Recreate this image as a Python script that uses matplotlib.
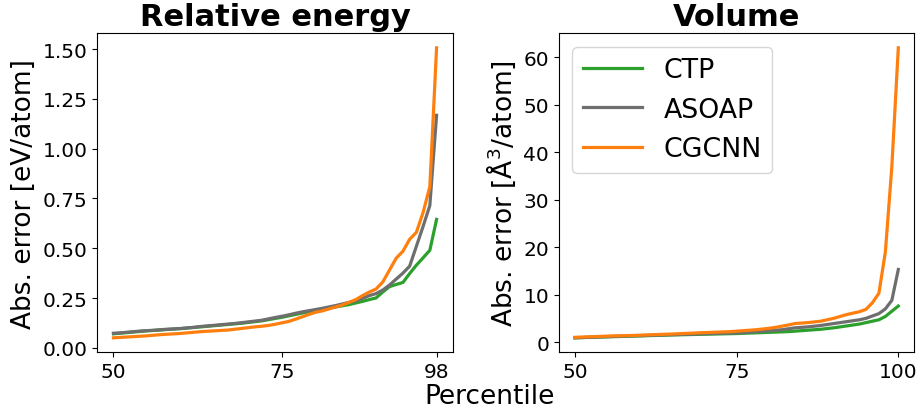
import numpy as np
from matplotlib import pyplot as plt

# percentiles for each panel
pct_energy = list(range(50, 99))
pct_volume = list(range(50, 101))

# relative energy abs. error [eV/atom]
ctp_energy = [0.070, 0.073, 0.076, 0.079, 0.082, 0.085, 0.087, 0.089, 0.092, 0.094,
              0.096, 0.099, 0.102, 0.105, 0.108, 0.111, 0.114, 0.117, 0.120, 0.123,
              0.127, 0.131, 0.135, 0.141, 0.147, 0.153, 0.160, 0.167, 0.174, 0.181,
              0.187, 0.193, 0.199, 0.205, 0.211, 0.217, 0.225, 0.233, 0.242, 0.250,
              0.280, 0.307, 0.318, 0.328, 0.373, 0.415, 0.452, 0.490, 0.645]
asoap_energy = [0.073, 0.075, 0.078, 0.081, 0.084, 0.086, 0.088, 0.091, 0.093, 0.095,
                0.097, 0.100, 0.103, 0.107, 0.110, 0.113, 0.116, 0.119, 0.122, 0.126,
                0.130, 0.134, 0.138, 0.145, 0.152, 0.158, 0.165, 0.173, 0.180, 0.186,
                0.192, 0.198, 0.205, 0.212, 0.220, 0.228, 0.236, 0.248, 0.262, 0.272,
                0.290, 0.315, 0.345, 0.375, 0.410, 0.510, 0.610, 0.715, 1.168]
cgcnn_energy = [0.050, 0.052, 0.054, 0.056, 0.058, 0.060, 0.063, 0.066, 0.068, 0.070,
                0.072, 0.075, 0.078, 0.081, 0.083, 0.085, 0.087, 0.089, 0.093, 0.097,
                0.101, 0.105, 0.108, 0.112, 0.118, 0.125, 0.132, 0.143, 0.155, 0.167,
                0.178, 0.185, 0.195, 0.205, 0.215, 0.228, 0.242, 0.262, 0.280, 0.295,
                0.330, 0.390, 0.450, 0.485, 0.545, 0.580, 0.680, 0.810, 1.507]

# volume abs. error [A^3/atom]
ctp_volume = [0.9, 0.94, 0.98, 1.02, 1.06, 1.1, 1.14, 1.18, 1.22, 1.26,
              1.3, 1.34, 1.38, 1.42, 1.46, 1.5, 1.53, 1.56, 1.59, 1.62,
              1.65, 1.68, 1.71, 1.74, 1.77, 1.8, 1.85, 1.9, 1.95, 2.0,
              2.05, 2.1, 2.15, 2.2, 2.3, 2.4, 2.5, 2.6, 2.7, 2.85,
              3.0, 3.2, 3.4, 3.6, 3.8, 4.1, 4.4, 4.7, 5.4, 6.5, 7.6]
asoap_volume = [0.9, 0.95, 1.0, 1.05, 1.1, 1.15, 1.2, 1.24, 1.28, 1.32,
                1.36, 1.4, 1.44, 1.48, 1.52, 1.56, 1.6, 1.64, 1.68, 1.72,
                1.76, 1.8, 1.83, 1.86, 1.9, 1.95, 2.0, 2.1, 2.2, 2.3,
                2.4, 2.5, 2.6, 2.8, 3.0, 3.1, 3.2, 3.35, 3.5, 3.7,
                3.9, 4.1, 4.3, 4.5, 4.7, 5.0, 5.5, 6.0, 7.0, 8.8, 15.3]
cgcnn_volume = [1.0, 1.05, 1.1, 1.15, 1.2, 1.25, 1.3, 1.33, 1.36, 1.4,
                1.45, 1.5, 1.55, 1.6, 1.65, 1.7, 1.76, 1.82, 1.88, 1.94,
                2.0, 2.05, 2.1, 2.15, 2.2, 2.3, 2.4, 2.5, 2.6, 2.75,
                2.9, 3.1, 3.35, 3.6, 3.9, 4.0, 4.1, 4.25, 4.4, 4.7,
                5.0, 5.4, 5.8, 6.1, 6.4, 6.9, 8.3, 10.3, 19.0, 37.0, 62.0]

COLORS = {'CTP': '#2ca02c', 'ASOAP': '#6e6e6e', 'CGCNN': '#ff7f0e'}
LW = 2.3
TICK_FS = 14.5
LABEL_FS = 19
LEGEND_FS = 19.3
TITLE_FS = 22

fig = plt.figure(figsize=(9.2, 4.14), dpi=100)
ax1 = fig.add_axes([0.1058, 0.1466, 0.3863, 0.7705])
ax2 = fig.add_axes([0.6074, 0.1466, 0.3866, 0.7705])

# left panel: relative energy
ax1.plot(pct_energy, ctp_energy, color=COLORS['CTP'], lw=LW, label='CTP')
ax1.plot(pct_energy, asoap_energy, color=COLORS['ASOAP'], lw=LW, label='ASOAP')
ax1.plot(pct_energy, cgcnn_energy, color=COLORS['CGCNN'], lw=LW, label='CGCNN')
ax1.set_xticks([50, 75, 98])
ax1.set_yticks(np.arange(0, 1.51, 0.25))
ax1.yaxis.set_major_formatter(plt.FormatStrFormatter('%.2f'))
ax1.set_title('Relative energy', fontsize=TITLE_FS, fontweight='bold')
ax1.set_ylabel('Abs. error [eV/atom]', fontsize=LABEL_FS)

# right panel: volume
ax2.plot(pct_volume, ctp_volume, color=COLORS['CTP'], lw=LW, label='CTP')
ax2.plot(pct_volume, asoap_volume, color=COLORS['ASOAP'], lw=LW, label='ASOAP')
ax2.plot(pct_volume, cgcnn_volume, color=COLORS['CGCNN'], lw=LW, label='CGCNN')
ax2.set_xticks([50, 75, 100])
ax2.set_yticks(range(0, 61, 10))
ax2.set_title('Volume', fontsize=TITLE_FS, fontweight='bold')
ax2.set_ylabel('Abs. error [Å$^3$/atom]', fontsize=LABEL_FS)
ax2.legend(loc='upper left', fontsize=LEGEND_FS, handlelength=2.2)

for ax in (ax1, ax2):
    ax.tick_params(labelsize=TICK_FS)

fig.text(0.532, 0.042, 'Percentile', fontsize=LABEL_FS, ha='center', va='center')

plt.savefig('out.png', dpi=100)
